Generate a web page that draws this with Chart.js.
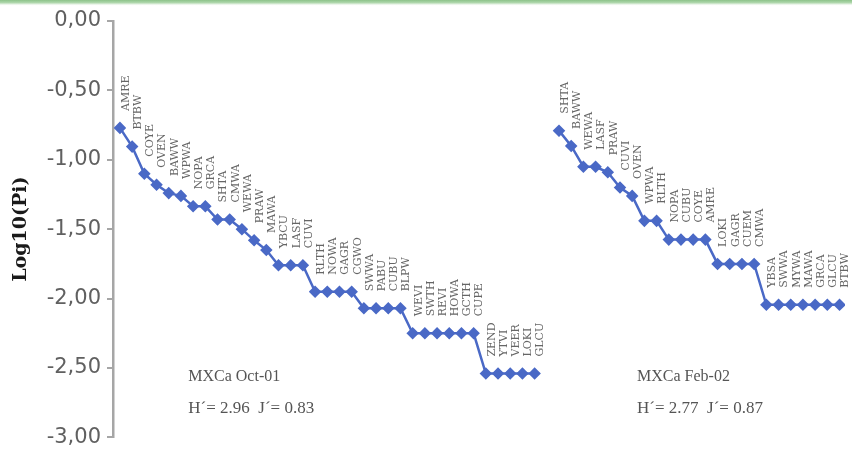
<!DOCTYPE html>
<html>
<head>
<meta charset="utf-8">
<script src="https://cdn.jsdelivr.net/npm/chart.js@4/dist/chart.umd.min.js"></script>
<style>
  html, body { margin: 0; padding: 0; background: #ffffff; }
  #wrap { width: 852px; height: 456px; position: relative; }
</style>
</head>
<body>
<div id="wrap"><canvas id="rankChart" width="852" height="456"></canvas></div>
<script>
// Rank-abundance: species codes ordered by log10 relative abundance
const oct01Species = ["AMRE","BTBW","COYE","OVEN","BAWW","WPWA","NOPA","GRCA","SHTA","CMWA",
  "WEWA","PRAW","MAWA","YBCU","LASF","CUVI","RLTH","NOWA","GAGR","CGWO",
  "SWWA","PABU","CUBU","BLPW","WEVI","SWTH","REVI","HOWA","GCTH","CUPE",
  "ZEND","YTVI","VEER","LOKI","GLCU"];
const oct01Values = [-0.77,-0.905,-1.10,-1.18,-1.24,-1.26,-1.335,-1.335,-1.43,-1.43,
  -1.50,-1.58,-1.65,-1.76,-1.76,-1.76,-1.95,-1.95,-1.95,-1.95,
  -2.07,-2.07,-2.07,-2.07,-2.25,-2.25,-2.25,-2.25,-2.25,-2.25,
  -2.54,-2.54,-2.54,-2.54,-2.54];

const feb02Species = ["SHTA","BAWW","WEWA","LASF","PRAW","CUVI","OVEN","WPWA","RLTH","NOPA",
  "CUBU","COYE","AMRE","LOKI","GAGR","CUEM","CMWA","YBSA","SWWA","MYWA",
  "MAWA","GRCA","GLCU","BTBW"];
const feb02Values = [-0.79,-0.90,-1.05,-1.05,-1.09,-1.20,-1.26,-1.44,-1.44,-1.575,
  -1.575,-1.575,-1.575,-1.75,-1.75,-1.75,-1.75,-2.045,-2.045,-2.045,
  -2.045,-2.045,-2.045,-2.045];

const yTicks = [0, -0.5, -1, -1.5, -2, -2.5, -3];

const sampleNotes = [
  { title: "MXCa Oct-01", stats: "H\u00B4= 2.96  J\u00B4= 0.83" },
  { title: "MXCa Feb-02", stats: "H\u00B4= 2.77  J\u00B4= 0.87" }
];

// the second sample starts after one empty rank slot
const gapSlots = 1;
const feb02Start = oct01Species.length + gapSlots;

const oct01Points = oct01Values.map((v, i) => ({ x: i, y: v, code: oct01Species[i] }));
const feb02Points = feb02Values.map((v, i) => ({ x: feb02Start + i, y: v, code: feb02Species[i] }));

const lineBlue = '#4a69c6';

// vertical species codes above each marker
const speciesLabels = {
  id: 'speciesLabels',
  afterDatasetsDraw(chart) {
    const ctx = chart.ctx;
    ctx.save();
    ctx.fillStyle = '#666666';
    ctx.font = '11px "DejaVu Serif", serif';
    ctx.textAlign = 'left';
    ctx.textBaseline = 'middle';
    chart.data.datasets.forEach((ds, di) => {
      const meta = chart.getDatasetMeta(di);
      meta.data.forEach((pt, i) => {
        ctx.save();
        ctx.translate(pt.x + 6, pt.y - 17);
        ctx.rotate(-Math.PI / 2);
        ctx.fillText(ds.data[i].code, 0, 0);
        ctx.restore();
      });
    });
    ctx.restore();
  }
};

// sample name and diversity indices under each curve
const sampleText = {
  id: 'sampleText',
  afterDraw(chart) {
    const ctx = chart.ctx;
    const xs = chart.scales.x, ys = chart.scales.y;
    const anchors = [5.6, 42.4];
    ctx.save();
    ctx.fillStyle = '#555555';
    ctx.textAlign = 'left';
    ctx.textBaseline = 'middle';
    sampleNotes.forEach((n, k) => {
      const px = xs.getPixelForValue(anchors[k]);
      ctx.font = '16px "Liberation Serif", serif';
      ctx.fillText(n.title, px, ys.getPixelForValue(-2.565));
      ctx.font = '17px "Liberation Serif", serif';
      ctx.fillText(n.stats, px, ys.getPixelForValue(-2.79));
    });
    ctx.restore();
  }
};

// thin green band along the top edge
const topBand = {
  id: 'topBand',
  beforeDraw(chart) {
    const ctx = chart.ctx;
    const g = ctx.createLinearGradient(0, 0, 0, 6);
    g.addColorStop(0, '#8cc389');
    g.addColorStop(0.5, '#b3d9b0');
    g.addColorStop(1, 'rgba(255,255,255,0)');
    ctx.save();
    ctx.fillStyle = g;
    ctx.fillRect(0, 0, chart.width, 6);
    ctx.restore();
  }
};

const seriesStyle = {
  borderColor: lineBlue,
  backgroundColor: lineBlue,
  borderWidth: 2.5,
  pointStyle: 'rectRot',
  pointRadius: 4.5,
  pointHoverRadius: 4.5,
  pointBackgroundColor: lineBlue,
  pointBorderColor: lineBlue,
  tension: 0,
  fill: false
};

new Chart(document.getElementById('rankChart'), {
  type: 'line',
  data: {
    datasets: [
      Object.assign({ label: 'MXCa Oct-01', data: oct01Points }, seriesStyle),
      Object.assign({ label: 'MXCa Feb-02', data: feb02Points }, seriesStyle)
    ]
  },
  options: {
    responsive: false,
    animation: false,
    layout: { padding: { top: 21, bottom: 15, left: 0, right: 4 } },
    plugins: { legend: { display: false }, tooltip: { enabled: false } },
    scales: {
      x: {
        type: 'linear',
        display: false,
        min: -0.57,
        max: 59.45
      },
      y: {
        min: -3,
        max: 0,
        afterFit(axis) { axis.width = 113; },
        afterBuildTicks(axis) { axis.ticks = yTicks.map(v => ({ value: v })); },
        grid: { drawOnChartArea: false, drawTicks: true, tickLength: 6, color: '#a6a6a6', lineWidth: 2 },
        border: { color: '#a6a6a6', width: 2.5 },
        ticks: {
          padding: 6,
          color: '#606060',
          font: { family: '"DejaVu Sans", sans-serif', size: 21 },
          callback: v => v.toFixed(2).replace('.', ',')
        },
        title: {
          display: true,
          text: 'Log10(Pi)',
          color: '#1a1a1a',
          padding: { top: 10, bottom: 4 },
          font: { family: '"DejaVu Serif", serif', size: 19, weight: 'bold' }
        }
      }
    }
  },
  plugins: [topBand, speciesLabels, sampleText]
});
</script>
</body>
</html>
